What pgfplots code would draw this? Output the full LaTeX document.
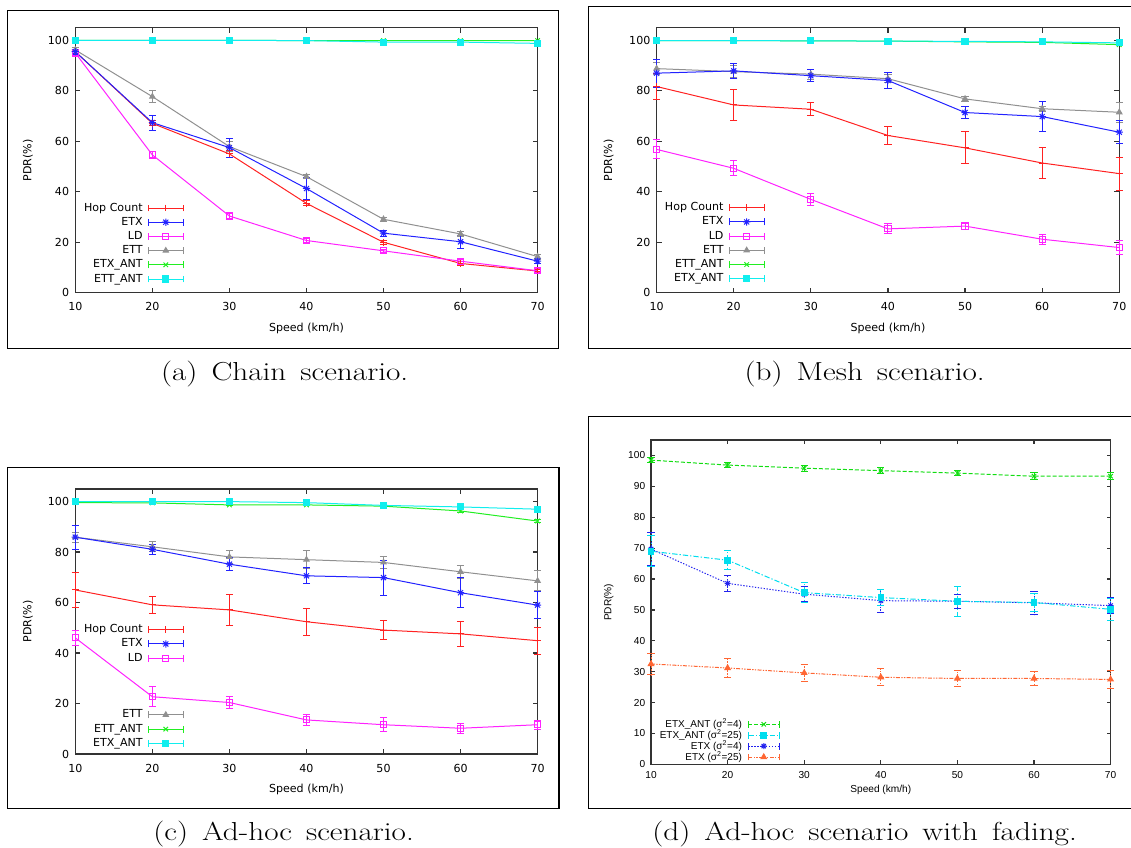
\documentclass[border=0pt]{standalone}
\usepackage{fontspec}
\usepackage{pgfplots}
\pgfplotsset{compat=1.18}
\newfontfamily\gpfont{DejaVu Sans}
\newfontfamily\epsfont{Liberation Sans}

% gnuplot-like line colours
\definecolor{gpred}{HTML}{FF2222}
\definecolor{gpblue}{HTML}{2222FF}
\definecolor{gpmag}{HTML}{FF22FF}
\definecolor{gpgray}{HTML}{909090}
\definecolor{gpgreen}{HTML}{22EE22}
\definecolor{gpcyan}{HTML}{11EEEE}
\definecolor{epsgreen}{HTML}{11DD11}
\definecolor{epscyan}{HTML}{00DDEE}
\definecolor{epsblue}{HTML}{2222EE}
\definecolor{epsorange}{HTML}{FF6633}

% gnuplot point type 3: plus and cross overlaid
\pgfdeclareplotmark{gpstar}{%
  \pgfpathmoveto{\pgfqpoint{-\pgfplotmarksize}{0pt}}%
  \pgfpathlineto{\pgfqpoint{\pgfplotmarksize}{0pt}}%
  \pgfpathmoveto{\pgfqpoint{0pt}{-\pgfplotmarksize}}%
  \pgfpathlineto{\pgfqpoint{0pt}{\pgfplotmarksize}}%
  \pgfpathmoveto{\pgfqpoint{-0.707\pgfplotmarksize}{-0.707\pgfplotmarksize}}%
  \pgfpathlineto{\pgfqpoint{0.707\pgfplotmarksize}{0.707\pgfplotmarksize}}%
  \pgfpathmoveto{\pgfqpoint{-0.707\pgfplotmarksize}{0.707\pgfplotmarksize}}%
  \pgfpathlineto{\pgfqpoint{0.707\pgfplotmarksize}{-0.707\pgfplotmarksize}}%
  \pgfusepathqstroke}

\pgfplotsset{
  hopst/.style={color=gpred, mark=+, mark size=2.6pt, line width=0.75pt},
  etxst/.style={color=gpblue, mark=gpstar, mark size=2.7pt, line width=0.75pt},
  ldst/.style={color=gpmag, mark=square, mark size=2.3pt, line width=0.75pt},
  ettst/.style={color=gpgray, mark=triangle*, mark size=2.3pt, line width=0.75pt},
  antx/.style={color=gpgreen, mark=x, mark size=2.4pt, line width=0.75pt},
  antsq/.style={color=gpcyan, mark=square*, mark size=2.3pt, line width=0.75pt},
  dA/.style={color=epsgreen, mark=x, mark size=2.3pt, line width=0.75pt, dash pattern=on 3pt off 1.5pt},
  dB/.style={color=epscyan, mark=square*, mark size=2.1pt, line width=0.75pt, dash pattern=on 4pt off 1.5pt on 1pt off 1.5pt},
  dC/.style={color=epsblue, mark=gpstar, mark size=2.3pt, line width=0.75pt, dash pattern=on 1pt off 1.2pt},
  dD/.style={color=epsorange, mark=triangle*, mark size=2.3pt, line width=0.75pt, dash pattern=on 3pt off 1pt on 1pt off 1pt on 1pt off 1pt},
  % y error bars with gnuplot-style caps, drawn in the series colour
  errs/.style={
    error bars/y dir=both, error bars/y explicit,
    error bars/error bar style={line width=0.75pt, draw=#1},
    error bars/error mark options={rotate=90, mark size=2.7pt, line width=0.75pt, solid, color=#1, draw=#1}},
  % legend sample: line with end caps and the mark in the middle
  % #1 colour, #2 sample length
  gpkey/.style 2 args={legend image code/.code={
    \draw[line width=0.75pt, mark repeat=2, mark phase=2, ##1, draw=#1]
      plot coordinates {(0pt,0pt) (#2/2,0pt) (#2,0pt)};
    \draw[line width=0.75pt, solid, draw=#1]
      (0pt,-2.6pt) -- (0pt,2.6pt) (#2,-2.6pt) -- (#2,2.6pt);
  }},
  gpbase/.style={
    scale only axis, clip=false,
    xmin=10, xmax=70, ymin=0, ymax=105,
    xtick={10,20,...,70},
    tick align=inside, major tick length=3.75pt,
    axis line style={line width=0.9pt, black!80},
    every tick/.style={line width=0.9pt, black!80},
    /pgf/number format/assume math mode=true,
    tick label style={inner sep=0pt},
    ylabel={PDR(\%)}, xlabel={Speed (km/h)},
    legend plot pos=right, legend cell align=right,
    legend style={draw=none, fill=none, inner sep=0pt, outer sep=0pt,
      column sep=4pt, row sep=0pt, anchor=north east},
    every axis plot/.append style={every mark/.append style={solid}},
  },
  gpsans/.style={
    gpbase,
    width=346.7pt, height=198.75pt,
    ytick={0,20,...,100},
    tick label style={font=\gpfont\fontsize{8.3}{10}\selectfont},
    label style={font=\gpfont\fontsize{8.3}{10}\selectfont},
    legend style={font=\gpfont\fontsize{8.3}{10}\selectfont,
      nodes={inner sep=0pt, minimum height=10.65pt}},
    xticklabel style={anchor=center, yshift=-10.5pt},
    yticklabel style={anchor=east, xshift=-4.5pt},
    xlabel style={at={(axis description cs:0.5,-0.134)}, anchor=center},
    ylabel style={at={(axis description cs:-0.1024,0.5)}, anchor=center},
  },
}

% sub-figure caption inter-word spacing
\newcommand{\capsp}{\hspace{0.45em}}

\begin{document}
\begin{tikzpicture}
\useasboundingbox (0pt,0pt) rectangle (848.25pt,635.25pt);

% panel frames
\draw[line width=0.8pt] (5.5pt,374pt) rectangle (419pt,627.2pt);
\draw[line width=0.8pt] (441.6pt,374pt) rectangle (860pt,630.2pt);
\draw[line width=0.8pt] (5.5pt,29pt) rectangle (419.25pt,284.8pt);
\draw[line width=0.8pt] (441.6pt,29pt) rectangle (860pt,322.7pt);

% ---------- (a) Chain ----------
\begin{axis}[gpsans, at={(56.5pt,415.7pt)}, anchor=south west,
  legend style={at={(axis description cs:0.2343,0.3464)}}]
\addplot[hopst, errs=gpred, forget plot] table[y error index=2] {
10 95.5 0.8
20 67.1 1.0
30 55.0 1.5
40 35.4 1.0
50 20.0 0.8
60 11.6 0.8
70 8.6 0.6
};
\addplot[ldst, errs=gpmag, forget plot] table[y error index=2] {
10 95.0 1.0
20 54.6 1.5
30 30.4 0.8
40 20.7 0.6
50 16.6 0.6
60 12.5 0.8
70 8.7 0.8
};
\addplot[ettst, errs=gpgray, forget plot] table[y error index=2] {
10 96.2 0.8
20 77.7 2.3
30 57.9 2.0
40 46.0 0.8
50 29.1 0.8
60 23.3 1.0
70 14.3 1.0
};
\addplot[etxst, errs=gpblue, forget plot] table[y error index=2] {
10 95.5 1.0
20 67.4 3.0
30 57.5 3.8
40 41.3 4.2
50 23.6 1.2
60 20.2 2.5
70 12.5 1.0
};
\addplot[antx, errs=gpgreen, forget plot] table[y error index=2] {
10 100.0 0.2
20 100.0 0.2
30 100.0 0.2
40 99.9 0.2
50 99.9 0.2
60 99.9 0.2
70 99.9 0.2
};
\addplot[antsq, errs=gpcyan, forget plot] table[y error index=2] {
10 100.0 0.2
20 100.0 0.2
30 100.0 0.2
40 99.9 0.3
50 99.3 0.3
60 99.3 0.3
70 98.8 0.3
};
\addlegendimage{hopst, gpkey={gpred}{26pt}}\addlegendentry{Hop Count}
\addlegendimage{etxst, gpkey={gpblue}{26pt}}\addlegendentry{ETX}
\addlegendimage{ldst, gpkey={gpmag}{26pt}}\addlegendentry{LD}
\addlegendimage{ettst, gpkey={gpgray}{26pt}}\addlegendentry{ETT}
\addlegendimage{antx, gpkey={gpgreen}{26pt}}\addlegendentry{ETX\_ANT}
\addlegendimage{antsq, gpkey={gpcyan}{26pt}}\addlegendentry{ETT\_ANT}
\end{axis}

% ---------- (b) Mesh ----------
\begin{axis}[gpsans, at={(492.45pt,415.7pt)}, anchor=south west,
  width=347pt,
  ylabel style={at={(axis description cs:-0.1034,0.5)}},
  legend style={at={(axis description cs:0.2332,0.3475)}}]
\addplot[hopst, errs=gpred, forget plot] table[y error index=2] {
10 81.7 5.0
20 74.4 6.0
30 72.7 2.6
40 62.3 3.7
50 57.4 6.3
60 51.4 6.3
70 47.2 6.5
};
\addplot[ldst, errs=gpmag, forget plot] table[y error index=2] {
10 56.8 3.8
20 49.3 3.0
30 37.0 2.5
40 25.3 2.0
50 26.4 1.5
60 21.2 2.0
70 17.9 2.7
};
\addplot[ettst, errs=gpgray, forget plot] table[y error index=2] {
10 88.8 2.5
20 87.6 2.5
30 86.6 2.0
40 84.8 1.5
50 76.8 1.0
60 72.9 1.0
70 71.5 4.0
};
\addplot[etxst, errs=gpblue, forget plot] table[y error index=2] {
10 87.0 5.5
20 87.9 3.0
30 86.0 2.5
40 84.1 3.0
50 71.4 2.2
60 69.8 6.0
70 63.6 4.5
};
\addplot[antx, errs=gpgreen, forget plot] table[y error index=2] {
10 99.9 0.3
20 99.9 0.3
30 99.8 0.3
40 99.7 0.3
50 99.4 0.3
60 99.2 0.3
70 98.3 0.4
};
\addplot[antsq, errs=gpcyan, forget plot] table[y error index=2] {
10 99.9 0.3
20 99.9 0.3
30 99.8 0.3
40 99.7 0.3
50 99.6 0.3
60 99.4 0.3
70 99.0 0.4
};
\addlegendimage{hopst, gpkey={gpred}{26pt}}\addlegendentry{Hop Count}
\addlegendimage{etxst, gpkey={gpblue}{26pt}}\addlegendentry{ETX}
\addlegendimage{ldst, gpkey={gpmag}{26pt}}\addlegendentry{LD}
\addlegendimage{ettst, gpkey={gpgray}{26pt}}\addlegendentry{ETT}
\addlegendimage{antx, gpkey={gpgreen}{26pt}}\addlegendentry{ETT\_ANT}
\addlegendimage{antsq, gpkey={gpcyan}{26pt}}\addlegendentry{ETX\_ANT}
\end{axis}

% ---------- (c) Ad-hoc ----------
\begin{axis}[gpsans, at={(56.5pt,69.75pt)}, anchor=south west,
  xlabel style={at={(axis description cs:0.5,-0.133)}},
  legend style={at={(axis description cs:0.2343,0.4958)}}]
\addplot[hopst, errs=gpred, forget plot] table[y error index=2] {
10 65.0 6.8
20 59.1 3.4
30 57.1 6.1
40 52.4 5.4
50 49.1 3.8
60 47.6 4.9
70 44.9 5.3
};
\addplot[ldst, errs=gpmag, forget plot] table[y error index=2] {
10 46.0 3.0
20 22.7 4.0
30 20.4 2.2
40 13.5 2.2
50 11.6 2.7
60 10.2 2.0
70 11.6 1.8
};
\addplot[ettst, errs=gpgray, forget plot] table[y error index=2] {
10 85.9 2.0
20 82.1 2.0
30 78.1 2.5
40 77.0 3.5
50 75.9 2.5
60 72.2 2.5
70 68.6 4.0
};
\addplot[etxst, errs=gpblue, forget plot] table[y error index=2] {
10 85.9 4.7
20 81.1 2.0
30 75.2 2.5
40 70.6 3.2
50 69.9 6.9
60 63.9 6.0
70 59.0 5.3
};
\addplot[antx, errs=gpgreen, forget plot] table[y error index=2] {
10 99.6 0.3
20 99.5 0.3
30 98.7 0.3
40 98.7 0.3
50 98.2 0.4
60 96.3 0.5
70 92.3 0.6
};
\addplot[antsq, errs=gpcyan, forget plot] table[y error index=2] {
10 100.0 0.3
20 100.0 0.3
30 100.0 0.3
40 99.6 0.3
50 98.5 0.3
60 97.9 0.3
70 97.0 0.4
};
\addlegendimage{hopst, gpkey={gpred}{26pt}}\addlegendentry{Hop Count}
\addlegendimage{etxst, gpkey={gpblue}{26pt}}\addlegendentry{ETX}
\addlegendimage{ldst, gpkey={gpmag}{26pt}}\addlegendentry{LD}
\addlegendimage{empty legend}\addlegendentry{}
\addlegendimage{empty legend}\addlegendentry{}
\addlegendimage{empty legend}\addlegendentry{}
\addlegendimage{ettst, gpkey={gpgray}{26pt}}\addlegendentry{ETT}
\addlegendimage{antx, gpkey={gpgreen}{26pt}}\addlegendentry{ETT\_ANT}
\addlegendimage{antsq, gpkey={gpcyan}{26pt}}\addlegendentry{ETX\_ANT}
\end{axis}

% ---------- (d) Ad-hoc with fading ----------
\begin{axis}[gpbase, at={(488.25pt,62pt)}, anchor=south west,
  width=344.7pt, height=243.2pt,
  ytick={0,10,...,100},
  major tick length=3pt,
  tick label style={font=\epsfont\fontsize{7.6}{9}\selectfont},
  label style={font=\epsfont\fontsize{7.6}{9}\selectfont},
  legend style={font=\epsfont\fontsize{7.5}{9}\selectfont,
    nodes={inner sep=0pt, minimum height=7.6pt}, column sep=4.5pt,
    at={(axis description cs:0.2798,0.1403)}},
  xticklabel style={anchor=center, yshift=-8pt},
  yticklabel style={anchor=east, xshift=-4.2pt},
  xlabel style={at={(axis description cs:0.5,-0.0794)}, anchor=center},
  ylabel style={at={(axis description cs:-0.092,0.5)}, anchor=center}]
\addplot[dD, errs=epsorange, forget plot] table[y error index=2] {
10 32.5 3.5
20 31.2 3.2
30 29.6 2.8
40 28.2 2.7
50 27.8 2.5
60 27.8 2.3
70 27.5 2.8
};
\addplot[dC, errs=epsblue, forget plot] table[y error index=2] {
10 69.7 5.3
20 58.6 2.5
30 55.1 2.5
40 53.0 3.7
50 52.8 2.2
60 52.3 3.8
70 51.4 2.5
};
\addplot[dB, errs=epscyan, forget plot] table[y error index=2] {
10 69.0 5.0
20 66.1 3.0
30 55.6 3.2
40 54.0 2.5
50 52.8 4.8
60 52.4 3.0
70 50.2 3.5
};
\addplot[dA, errs=epsgreen, forget plot] table[y error index=2] {
10 98.5 0.8
20 96.9 0.7
30 95.9 1.0
40 95.1 1.0
50 94.3 0.8
60 93.3 1.2
70 93.3 1.2
};
\addlegendimage{dA, gpkey={epsgreen}{23pt}}\addlegendentry{ETX\_ANT (σ\textsuperscript{2}=4)}
\addlegendimage{dB, gpkey={epscyan}{23pt}}\addlegendentry{ETX\_ANT (σ\textsuperscript{2}=25)}
\addlegendimage{dC, gpkey={epsblue}{23pt}}\addlegendentry{ETX (σ\textsuperscript{2}=4)}
\addlegendimage{dD, gpkey={epsorange}{23pt}}\addlegendentry{ETX (σ\textsuperscript{2}=25)}
\end{axis}

% sub-figure captions
\begin{scope}[every node/.style={anchor=base, font=\fontsize{19.5}{24}\selectfont,
    inner sep=0pt, xscale=1.2, transform shape}]
\node at (213.5pt,349.7pt) {(a)\capsp Chain\capsp scenario.};
\node at (648.5pt,349.7pt) {(b)\capsp Mesh\capsp scenario.};
\node at (212.7pt,5pt) {(c)\capsp Ad-hoc\capsp scenario.};
\node at (648.5pt,5pt) {(d)\capsp Ad-hoc\capsp scenario\capsp with\capsp fading.};
\end{scope}
\end{tikzpicture}
\end{document}
